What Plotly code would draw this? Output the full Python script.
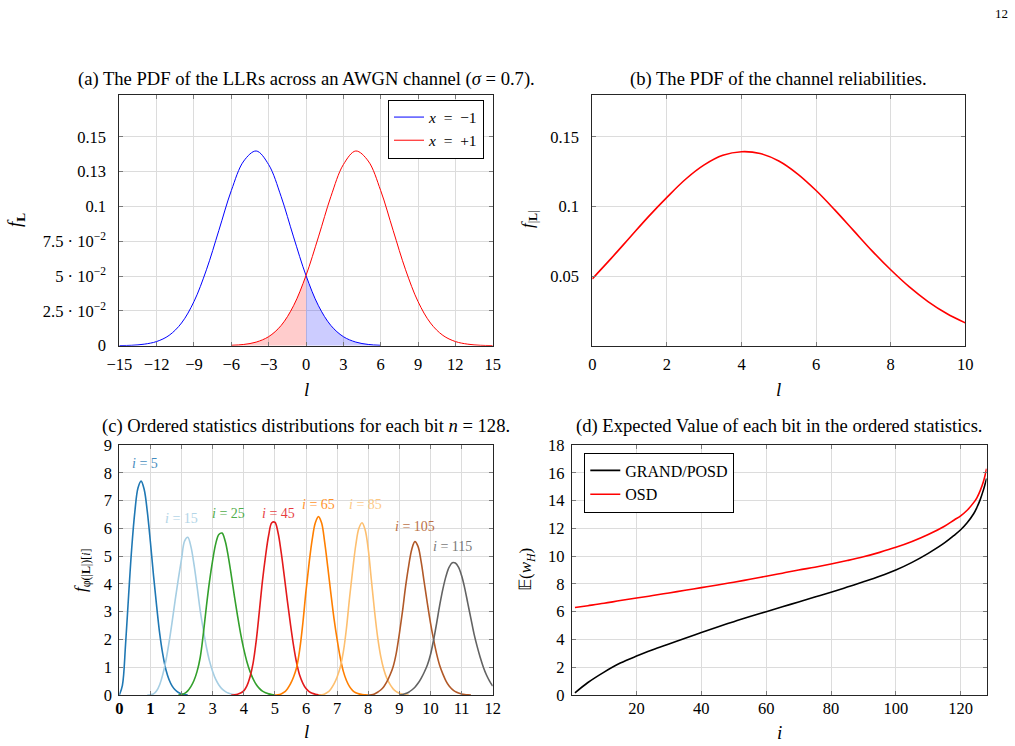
import plotly.graph_objects as go

W, H = 1015, 746
FONT = "Liberation Serif"

# ---------------- (a) PDF of LLRs ----------------
llr_l_minus = [-15, -14, -13, -12, -11, -10, -9, -8, -7, -6, -5, -4, -3, -2, -1, 0, 1, 2, 3, 4, 5, 6]
llr_pdf_minus = [0.0001, 0.0003, 0.0011, 0.0030, 0.0074, 0.0163, 0.0317, 0.0545, 0.0828, 0.1114, 0.1326,
                 0.1398, 0.1300, 0.1071, 0.0781, 0.0504, 0.0287, 0.0145, 0.0065, 0.0026, 0.0009, 0.0003]
llr_l_plus = [-6, -5, -4, -3, -2, -1, 0, 1, 2, 3, 4, 5, 6, 7, 8, 9, 10, 11, 12, 13, 14, 15]
llr_pdf_plus = [0.0003, 0.0009, 0.0026, 0.0065, 0.0145, 0.0287, 0.0504, 0.0781, 0.1071, 0.1300, 0.1398,
                0.1326, 0.1114, 0.0828, 0.0545, 0.0317, 0.0163, 0.0074, 0.0030, 0.0011, 0.0003, 0.0001]
a_xticks = [-15, -12, -9, -6, -3, 0, 3, 6, 9, 12, 15]
a_yticks = [0, 0.025, 0.05, 0.075, 0.1, 0.125, 0.15]
a_yticktext = ["0", "2.5 · 10<sup>−2</sup>", "5 · 10<sup>−2</sup>", "7.5 · 10<sup>−2</sup>", "0.1", "0.13", "0.15"]

# ---------------- (b) PDF of reliabilities ----------------
rel_l = [0, 0.5, 1, 1.5, 2, 2.5, 3, 3.5, 4, 4.5, 5, 5.5, 6, 6.5, 7, 7.5, 8, 8.5, 9, 9.5, 10]
rel_pdf = [0.048, 0.0625, 0.0775, 0.0925, 0.1065, 0.1195, 0.1298, 0.1367, 0.1393, 0.1380, 0.1326,
           0.1234, 0.1114, 0.0975, 0.0828, 0.0681, 0.0545, 0.0422, 0.0317, 0.0231, 0.0164]
b_xticks = [0, 2, 4, 6, 8, 10]
b_yticks = [0.05, 0.1, 0.15]

# ---------------- (c) ordered statistics ----------------
os_names = ["5", "15", "25", "45", "65", "85", "105", "115"]
os5_l = [0.0, 0.1, 0.2, 0.3, 0.4, 0.5, 0.6, 0.7, 0.8, 0.9, 1.0, 1.1, 1.2, 1.3, 1.4, 1.5, 1.6, 1.7, 1.8, 1.9,
         2.0, 2.1, 2.2]
os5_f = [0, 0.35, 1.8, 3.6, 5.3, 6.6, 7.45, 7.7, 7.4, 6.6, 5.5, 4.3, 3.2, 2.2, 1.45, 0.9, 0.55, 0.32, 0.18,
         0.09, 0.04, 0.015, 0]
os15_l = [0.9, 1.0, 1.1, 1.2, 1.3, 1.4, 1.5, 1.6, 1.7, 1.8, 1.9, 2.0, 2.1, 2.2, 2.3, 2.4, 2.5, 2.6, 2.7, 2.8,
          2.9, 3.0, 3.1, 3.2, 3.3, 3.4, 3.5, 3.6, 3.7, 3.8]
os15_f = [0, 0.01, 0.04, 0.15, 0.38, 0.75, 1.25, 1.9, 2.65, 3.45, 4.2, 4.9, 5.55, 5.68, 5.35, 4.7, 3.9, 3.05,
          2.35, 1.72, 1.22, 0.85, 0.56, 0.36, 0.22, 0.13, 0.07, 0.035, 0.015, 0]
os25_l = [1.9, 2.0, 2.1, 2.2, 2.3, 2.4, 2.5, 2.6, 2.7, 2.8, 2.9, 3.0, 3.1, 3.2, 3.3, 3.4, 3.5, 3.6, 3.7, 3.8,
          3.9, 4.0, 4.1, 4.2, 4.3, 4.4, 4.5, 4.6, 4.7, 4.8, 4.9, 5.0]
os25_f = [0, 0.02, 0.06, 0.15, 0.3, 0.52, 0.85, 1.35, 2.2, 3.2, 4.1, 4.85, 5.45, 5.78, 5.83, 5.55, 5.0, 4.3,
          3.55, 2.85, 2.2, 1.65, 1.2, 0.85, 0.58, 0.38, 0.24, 0.14, 0.08, 0.04, 0.015, 0]
os45_l = [3.6, 3.7, 3.8, 3.9, 4.0, 4.1, 4.2, 4.3, 4.4, 4.5, 4.6, 4.7, 4.8, 4.9, 5.0, 5.1, 5.2, 5.3, 5.4, 5.5,
          5.6, 5.7, 5.8, 5.9, 6.0, 6.1, 6.2, 6.3, 6.4, 6.5]
os45_f = [0, 0.01, 0.03, 0.07, 0.15, 0.33, 0.65, 1.15, 1.95, 3.0, 4.1, 5.0, 5.75, 6.2, 6.22, 5.85, 5.15, 4.3,
          3.4, 2.55, 1.78, 1.15, 0.7, 0.42, 0.23, 0.12, 0.06, 0.03, 0.01, 0]
os65_l = [5.0, 5.1, 5.2, 5.3, 5.4, 5.5, 5.6, 5.7, 5.8, 5.9, 6.0, 6.1, 6.2, 6.3, 6.4, 6.5, 6.6, 6.7, 6.8, 6.9,
          7.0, 7.1, 7.2, 7.3, 7.4, 7.5, 7.6, 7.7, 7.8, 7.9, 8.0]
os65_f = [0, 0.01, 0.04, 0.1, 0.22, 0.4, 0.65, 1.0, 1.65, 2.6, 3.75, 4.75, 5.6, 6.2, 6.42, 6.2, 5.5, 4.6,
          3.65, 2.75, 2.0, 1.35, 0.85, 0.52, 0.3, 0.16, 0.08, 0.04, 0.02, 0.005, 0]
os85_l = [6.4, 6.5, 6.6, 6.7, 6.8, 6.9, 7.0, 7.1, 7.2, 7.3, 7.4, 7.5, 7.6, 7.7, 7.8, 7.9, 8.0, 8.1, 8.2, 8.3,
          8.4, 8.5, 8.6, 8.7, 8.8, 8.9, 9.0, 9.1, 9.2, 9.3]
os85_f = [0, 0.01, 0.04, 0.1, 0.22, 0.4, 0.65, 1.0, 1.55, 2.4, 3.5, 4.5, 5.4, 6.0, 6.2, 5.95, 5.25, 4.15,
          3.05, 2.1, 1.4, 0.92, 0.6, 0.38, 0.22, 0.12, 0.06, 0.03, 0.01, 0]
os105_l = [8.0, 8.1, 8.2, 8.3, 8.4, 8.5, 8.6, 8.7, 8.8, 8.9, 9.0, 9.1, 9.2, 9.3, 9.4, 9.5, 9.6, 9.7, 9.8, 9.9,
           10.0, 10.1, 10.2, 10.3, 10.4, 10.5, 10.6, 10.7, 10.8, 10.9, 11.0, 11.1, 11.2, 11.3]
os105_f = [0, 0.01, 0.04, 0.1, 0.18, 0.3, 0.48, 0.72, 1.02, 1.5, 2.2, 3.0, 3.9, 4.65, 5.25, 5.52, 5.35, 4.8,
           4.05, 3.3, 2.6, 2.0, 1.47, 1.05, 0.75, 0.5, 0.32, 0.2, 0.12, 0.07, 0.035, 0.015, 0.005, 0]
os115_l = [9.0, 9.1, 9.2, 9.3, 9.4, 9.5, 9.6, 9.7, 9.8, 9.9, 10.0, 10.1, 10.2, 10.3, 10.4, 10.5, 10.6, 10.7,
           10.8, 10.9, 11.0, 11.1, 11.2, 11.3, 11.4, 11.5, 11.6, 11.7, 11.8, 11.9, 12.0]
os115_f = [0, 0.02, 0.05, 0.1, 0.18, 0.28, 0.42, 0.6, 0.82, 1.08, 1.45, 1.98, 2.6, 3.25, 3.82, 4.28, 4.6,
           4.76, 4.75, 4.6, 4.3, 3.85, 3.3, 2.75, 2.2, 1.75, 1.35, 1.0, 0.72, 0.5, 0.32]
c_xticks = list(range(0, 13))
c_yticks = list(range(0, 10))

# ---------------- (d) expected value ----------------
bit_i = [1, 5, 10, 15, 20, 25, 30, 35, 40, 45, 50, 55, 60, 65, 70, 75, 80, 85, 90, 95, 100, 105, 110, 115,
         118, 120, 122, 124, 125, 126, 127, 128]
ew_grand = [0.15, 0.9, 1.65, 2.3, 2.8, 3.25, 3.67, 4.09, 4.5, 4.9, 5.28, 5.65, 6.0, 6.35, 6.7, 7.05, 7.4,
            7.77, 8.15, 8.55, 9.0, 9.55, 10.2, 10.95, 11.5, 11.9, 12.4, 13.05, 13.5, 14.05, 14.75, 15.6]
ew_osd = [6.3, 6.43, 6.6, 6.8, 6.98, 7.16, 7.35, 7.54, 7.73, 7.92, 8.12, 8.33, 8.55, 8.77, 9.0, 9.2, 9.43,
          9.68, 9.95, 10.27, 10.63, 11.05, 11.55, 12.15, 12.6, 12.9, 13.3, 13.85, 14.2, 14.7, 15.35, 16.3]
d_xticks = [20, 40, 60, 80, 100, 120]
d_yticks = list(range(0, 19, 2))

# ---------------- styles ----------------
os_series = [(os5_l, os5_f), (os15_l, os15_f), (os25_l, os25_f), (os45_l, os45_f),
             (os65_l, os65_f), (os85_l, os85_f), (os105_l, os105_f), (os115_l, os115_f)]
os_colors = ["#1f78b4", "#a6cee3", "#33a02c", "#e31a1c", "#ff7f00", "#fdbf6f", "#b15928", "#636363"]
os_label_pos = [(0.83, 8.35), (2.0, 6.34), (3.5, 6.55), (5.1, 6.55), (6.39, 6.84), (7.9, 6.84),
                (9.51, 6.05), (10.72, 5.33)]


def px_x(p):
    return p / W


def px_y(p):
    return 1 - p / H


fig = go.Figure()

# (a) fills
neg_idx = [k for k, v in enumerate(llr_l_plus) if v <= 0]
pos_idx = [k for k, v in enumerate(llr_l_minus) if v >= 0]
fig.add_trace(go.Scatter(x=[llr_l_plus[k] for k in neg_idx], y=[llr_pdf_plus[k] for k in neg_idx],
                         mode="lines", line=dict(width=0, shape="spline"), fill="tozeroy",
                         fillcolor="rgba(255,0,0,0.2)", showlegend=False, xaxis="x", yaxis="y",
                         hoverinfo="skip"))
fig.add_trace(go.Scatter(x=[llr_l_minus[k] for k in pos_idx], y=[llr_pdf_minus[k] for k in pos_idx],
                         mode="lines", line=dict(width=0, shape="spline"), fill="tozeroy",
                         fillcolor="rgba(0,0,255,0.2)", showlegend=False, xaxis="x", yaxis="y",
                         hoverinfo="skip"))
fig.add_trace(go.Scatter(x=llr_l_minus, y=llr_pdf_minus, mode="lines", name="<i>x</i>\u2002=\u2002−1",
                         line=dict(color="#0000ff", width=1, shape="spline"), xaxis="x", yaxis="y",
                         legend="legend"))
fig.add_trace(go.Scatter(x=llr_l_plus, y=llr_pdf_plus, mode="lines", name="<i>x</i>\u2002=\u2002+1",
                         line=dict(color="#ff0000", width=1, shape="spline"), xaxis="x", yaxis="y",
                         legend="legend"))

# (b)
fig.add_trace(go.Scatter(x=rel_l, y=rel_pdf, mode="lines", showlegend=False,
                         line=dict(color="#ff0000", width=1.6, shape="spline"), xaxis="x2", yaxis="y2"))

# (c)
for (lx, fy), col, nm in zip(os_series, os_colors, os_names):
    fig.add_trace(go.Scatter(x=lx, y=fy, mode="lines", showlegend=False, name="i = " + nm,
                             line=dict(color=col, width=1.6, shape="spline"), xaxis="x3", yaxis="y3"))

# (d)
fig.add_trace(go.Scatter(x=bit_i, y=ew_grand, mode="lines", name="GRAND/POSD",
                         line=dict(color="#000000", width=1.6, shape="spline"), xaxis="x4", yaxis="y4",
                         legend="legend2"))
fig.add_trace(go.Scatter(x=bit_i, y=ew_osd, mode="lines", name="OSD",
                         line=dict(color="#ff0000", width=1.6, shape="spline"), xaxis="x4", yaxis="y4",
                         legend="legend2"))


def axis(domain, rng, tickvals, anchor, ticktext=None, standoff=0):
    d = dict(domain=domain, range=rng, tickmode="array", tickvals=tickvals, automargin=False,
             showgrid=True, gridcolor="#dcdcdc", gridwidth=1, zeroline=False,
             showline=True, linecolor="#262626", linewidth=1, mirror="ticks",
             ticks="inside", ticklen=4, tickcolor="#7a7a7a", tickwidth=1,
             ticklabelstandoff=standoff,
             tickfont=dict(family=FONT, size=16.5, color="black"), anchor=anchor, fixedrange=True)
    if ticktext is not None:
        d["ticktext"] = ticktext
    return d


a_xd = [px_x(119.3), px_x(492.7)]
b_xd = [px_x(592.3), px_x(965.3)]
top_yd = [px_y(345.7), px_y(95)]
c_xd = [px_x(119.3), px_x(492.7)]
d_xd = [px_x(571.7), px_x(986.6)]
bot_yd = [px_y(695), px_y(445)]

minus = lambda v: ("−" + str(-v)) if v < 0 else str(v)

fig.update_layout(
    template="none",
    width=W, height=H, margin=dict(l=0, r=0, t=0, b=0, autoexpand=False),
    paper_bgcolor="white", plot_bgcolor="white",
    font=dict(family=FONT, size=15, color="black"),
    xaxis=axis(a_xd, [-15, 15], a_xticks, "y", [minus(v) for v in a_xticks], 3),
    yaxis=axis(top_yd, [0, 0.18], a_yticks, "x", a_yticktext, 9),
    xaxis2=axis(b_xd, [0, 10], b_xticks, "y2", None, 3),
    yaxis2=axis(top_yd, [0, 0.18], b_yticks, "x2", ["0.05", "0.1", "0.15"], 9),
    xaxis3=axis(c_xd, [0, 12], c_xticks, "y3", ["<b>0</b>", "<b>1</b>"] + [str(v) for v in c_xticks[2:]], -2),
    yaxis3=axis(bot_yd, [0, 9], c_yticks, "x3", None, 3),
    xaxis4=axis(d_xd, [0, 128], d_xticks, "y4", None, -2),
    yaxis4=axis(bot_yd, [0, 18], d_yticks, "x4", None, 3),
    legend=dict(x=px_x(484), y=px_y(99.5), xanchor="right", yanchor="top",
                bordercolor="black", borderwidth=1, bgcolor="white",
                font=dict(family=FONT, size=15.5, color="black"), tracegroupgap=0),
    legend2=dict(x=px_x(584.3), y=px_y(452.5), xanchor="left", yanchor="top",
                 bordercolor="black", borderwidth=1, bgcolor="white",
                 font=dict(family=FONT, size=16, color="black"), tracegroupgap=0),
)

ann = []


def txt(x, y, s, size=18.6, angle=0, xanchor="center", color="black"):
    ann.append(dict(x=px_x(x), y=px_y(y), xref="paper", yref="paper", text=s, showarrow=False,
                    xanchor=xanchor, yanchor="middle", textangle=angle,
                    font=dict(family=FONT, size=size, color=color)))


# titles
txt(306, 79, "(a) The PDF of the LLRs across an AWGN channel (<i>σ</i> = 0.7).")
txt(778.8, 79, "(b) The PDF of the channel reliabilities.")
txt(306, 425.5, "(c) Ordered statistics distributions for each bit <i>n</i> = 128.")
txt(779, 426, "(d) Expected Value of each bit in the ordered statistics.")
# axis labels
txt(306, 389, "<i>l</i>", 19)
txt(778.8, 389, "<i>l</i>", 19)
txt(306, 731, "<i>l</i>", 19)
txt(779, 732, "<i>i</i>", 19)
txt(16, 220, "<i>f</i><sub><b>L</b></sub>", 19, -90)
txt(529, 220, "<i>f</i><sub>|<b>L</b>|</sub>", 17, -90)
txt(82, 570, "<i>f</i><sub>φ(|<b>L</b>|)[<i>i</i>]</sub>", 17, -90)
txt(527, 570, "𝔼(<i>w</i><sub><i>H</i></sub>)", 17, -90)
# page number
txt(1001, 13, "12", 13)

fig.update_layout(annotations=ann)

# (c) curve labels in data coords
for (lx, ly), col, nm in zip(os_label_pos, os_colors, os_names):
    fig.add_annotation(x=lx, y=ly, xref="x3", yref="y3", text="<i>i</i> = " + nm, showarrow=False,
                       opacity=0.85, font=dict(family=FONT, size=14, color=col))

fig.write_html("out.html")
